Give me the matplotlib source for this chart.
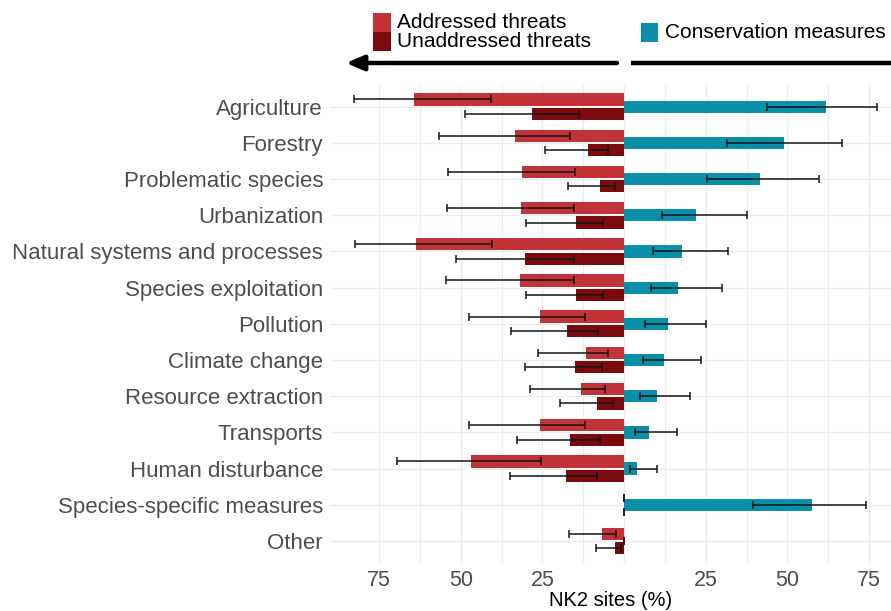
import numpy as np
import matplotlib
matplotlib.use("Agg")
import matplotlib.pyplot as plt
from matplotlib.patches import Rectangle, FancyArrowPatch, ArrowStyle
from matplotlib.lines import Line2D

plt.rcParams['font.family'] = ['Liberation Sans', 'DejaVu Sans']

# categories, top to bottom
categories = ["Agriculture", "Forestry", "Problematic species", "Urbanization",
              "Natural systems and processes", "Species exploitation", "Pollution",
              "Climate change", "Resource extraction", "Transports",
              "Human disturbance", "Species-specific measures", "Other"]

# % of NK2 sites (left side = threats, right side = conservation measures)
addressed = [64.2, 33.5, 31.2, 31.4, 63.7, 31.7, 25.8, 11.8, 13.3, 25.8, 46.7, 0, 6.8]
addressed_lo = [40.7, 16.5, 15.0, 15.2, 40.4, 15.4, 11.9, 5.0, 5.7, 12.0, 25.4, 0, 2.6]
addressed_hi = [82.6, 56.6, 53.8, 54.2, 82.4, 54.5, 47.4, 26.2, 28.9, 47.4, 69.4, 0, 16.7]

unaddressed = [28.1, 11.1, 7.3, 14.6, 30.4, 14.6, 17.6, 14.9, 8.3, 16.4, 17.8, 0, 2.9]
unaddressed_lo = [13.9, 4.8, 2.9, 6.5, 15.4, 6.5, 8.0, 6.6, 3.4, 7.4, 8.2, 0, 0.9]
unaddressed_hi = [48.6, 24.3, 17.3, 29.9, 51.3, 29.9, 34.5, 30.4, 19.5, 32.8, 35.0, 0, 8.7]

conservation = [61.9, 48.9, 41.5, 22.0, 17.6, 16.6, 13.3, 12.3, 10.1, 7.7, 4.1, 57.5, 0]
conservation_lo = [43.6, 31.5, 25.4, 11.7, 9.0, 8.3, 6.5, 5.9, 4.8, 3.4, 1.7, 39.4, 0]
conservation_hi = [77.4, 66.7, 59.7, 37.7, 31.7, 30.1, 25.2, 23.7, 20.2, 16.3, 10.0, 74.0, 0]

tick_values = [75, 50, 25]

col_addr = "#C13338"
col_unaddr = "#7A0A0C"
col_cons = "#0A8FA9"

W, H = 891, 611
fig = plt.figure(figsize=(W / 100, H / 100), dpi=100)
ax = fig.add_axes([330 / W, 1 - 562.7 / H, 561 / W, (562.7 - 85) / H])

y = np.arange(len(categories))
bh = 0.34
off = 0.2

def neg(v):
    return -np.array(v, dtype=float)

# threats, plotted to the left
ax.barh(y - off, neg(addressed), height=bh, color=col_addr, zorder=2)
ax.barh(y + off, neg(unaddressed), height=bh, color=col_unaddr, zorder=2)
ax.barh(y, conservation, height=bh, color=col_cons, zorder=2)

eb = dict(fmt='none', ecolor='#151515', elinewidth=1.1, capsize=2.8, capthick=1.1, zorder=3)
a = np.array(addressed); u = np.array(unaddressed); c = np.array(conservation)
ax.errorbar(-a, y - off, xerr=[np.array(addressed_hi) - a, a - np.array(addressed_lo)], **eb)
ax.errorbar(-u, y + off, xerr=[np.array(unaddressed_hi) - u, u - np.array(unaddressed_lo)], **eb)
ax.errorbar(c, y, xerr=[c - np.array(conservation_lo), np.array(conservation_hi) - c], **eb)

ax.set_xlim(-90.0, 81.7)
ax.set_ylim(len(categories) - 0.4, -0.6)

xt = [-v for v in tick_values] + tick_values[::-1]
ax.set_xticks(xt)
ax.set_xticklabels([str(abs(v)) for v in xt])
ax.set_xticks([-62.5, -37.5, -12.5, 0, 12.5, 37.5, 62.5], minor=True)
ax.set_yticks(y)
ax.set_yticklabels(categories)
ax.tick_params(axis='both', which='both', length=0)
ax.tick_params(axis='y', labelsize=16, labelcolor='#4d4d4d', pad=5)
ax.tick_params(axis='x', labelsize=15.5, labelcolor='#4d4d4d', pad=5)
ax.grid(True, which='both', color='#EBEBEB', lw=0.9, zorder=0)
ax.set_axisbelow(True)
for s in ax.spines.values():
    s.set_visible(False)
ax.set_xlabel("NK2 sites (%)", fontsize=14.5, labelpad=0)

def fx(px):
    return px / W

def fy(py):
    return 1 - py / H

# legend boxes
for (top, col, lab) in [(13, col_addr, "Addressed threats"), (32, col_unaddr, "Unaddressed threats")]:
    fig.add_artist(Rectangle((fx(373), fy(top + 18.5)), 18 / W, 18.5 / H, transform=fig.transFigure,
                             color=col, lw=0))
    fig.text(fx(397), fy(top + 9.5), lab, fontsize=15, va='center', ha='left')
fig.add_artist(Rectangle((fx(641), fy(42)), 17 / W, 19 / H, transform=fig.transFigure, color=col_cons, lw=0))
fig.text(fx(665), fy(32.5), "Conservation measures", fontsize=15, va='center', ha='left')

# direction arrows
arr = FancyArrowPatch((fx(617), fy(63)), (fx(346), fy(63)), transform=fig.transFigure,
                      arrowstyle=ArrowStyle('-|>', head_length=0.7, head_width=0.3),
                      mutation_scale=15, lw=3.2, color='black', shrinkA=0, shrinkB=0)
fig.add_artist(arr)
fig.add_artist(Line2D([fx(631), fx(895)], [fy(63), fy(63)], transform=fig.transFigure,
                      lw=3.2, color='black', solid_capstyle='butt'))

fig.savefig("out.png", dpi=100)
